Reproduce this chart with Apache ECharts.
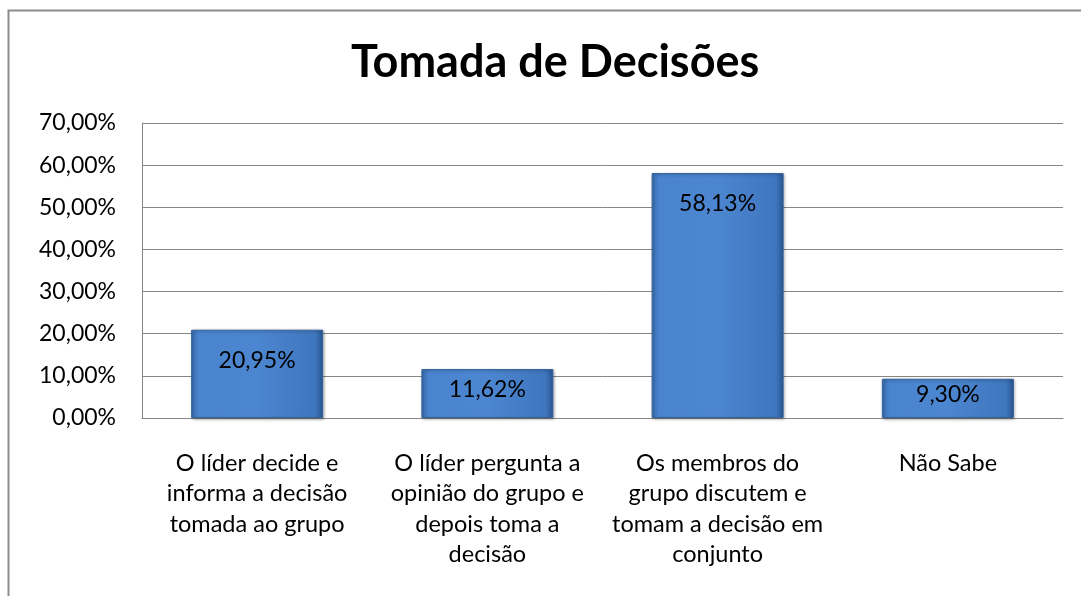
<!DOCTYPE html>
<html><head><meta charset="utf-8">
<script src="https://cdn.jsdelivr.net/npm/echarts@6/dist/echarts.min.js"></script>
<style>html,body{margin:0;padding:0;background:#fff}#c{width:1081px;height:596px}</style>
</head><body><div id="c"></div>
<script>
const categories = [
  "O líder decide e\ninforma a decisão\ntomada ao grupo",
  "O líder pergunta a\nopinião do grupo e\ndepois toma a\ndecisão",
  "Os membros do\ngrupo discutem e\ntomam a decisão em\nconjunto",
  "Não Sabe"
];
const values = [20.95, 11.62, 58.13, 9.30];
const titleText = "Tomada de Decisões";

const fmt = v => v.toFixed(2).replace('.', ',') + '%';
const font = "Lato, 'Open Sans', sans-serif";
const chart = echarts.init(document.getElementById('c'));
chart.setOption({
  animation: false,
  backgroundColor: '#fff',
  graphic: [{type:'rect', shape:{x:8.5,y:10.5,width:1100,height:620}, style:{fill:'none',stroke:'#8c8c8c',lineWidth:2}, silent:true}],
  title: {text: titleText, left: 346, top: 35, textStyle:{fontFamily:font, fontSize:45, fontWeight:'bold', color:'#000'}},
  grid: {left: 142, right: 18, top: 123, bottom: 178},
  xAxis: {type:'category', data: categories,
    axisLine:{lineStyle:{color:'#868686'}}, axisTick:{show:false},
    axisLabel:{color:'#000', fontFamily:font, fontSize:23.5, lineHeight:30.5, margin:30, interval:0}},
  yAxis: {type:'value', min:0, max:70, interval:10,
    axisLine:{show:true, lineStyle:{color:'#868686'}}, axisTick:{show:false},
    splitLine:{lineStyle:{color:'#868686'}},
    axisLabel:{color:'#000', fontFamily:font, fontSize:23, margin:26, formatter: v => fmt(v)}},
  series: [{type:'bar', barWidth:132,
    data: values.map(v => ({value: v, label: v < 15 ? {position:'inside', offset:[0,-4]} : {position:'insideTop', distance:19}})),
    itemStyle:{color:new echarts.graphic.LinearGradient(0,0,1,0,[
      {offset:0,color:'#3a6eb2'},{offset:0.06,color:'#4a84cf'},{offset:0.5,color:'#4c86d0'},{offset:0.94,color:'#3f77be'},{offset:1,color:'#2a5590'}]),
      borderColor:'#35649f', borderWidth:1, shadowColor:'rgba(0,0,0,0.35)', shadowBlur:3, shadowOffsetX:1, shadowOffsetY:1},
    label:{show:true, color:'#000', fontFamily:font, fontSize:23, formatter: p => fmt(p.value)}
  }]
});
</script></body></html>
